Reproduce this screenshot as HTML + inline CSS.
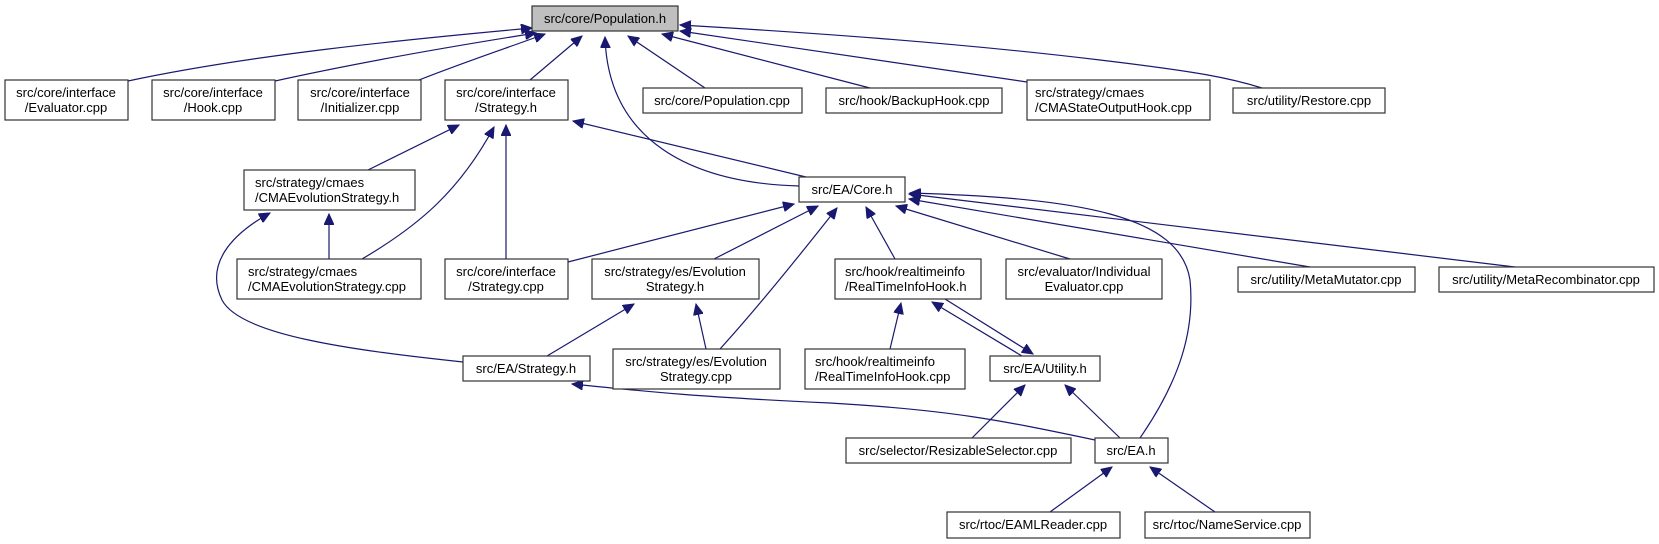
<!DOCTYPE html>
<html><head><meta charset="utf-8"><style>
html,body{margin:0;padding:0;background:#fff;}
svg{display:block;}
text{font-family:"Liberation Sans",Arial,sans-serif;font-size:13px;fill:#000;}
.b{fill:#fff;stroke:#333;stroke-width:1.2;}
.e{fill:none;stroke:#191970;stroke-width:1.2;marker-end:url(#a);}
</style></head><body>
<svg width="1659" height="544" viewBox="0 0 1659 544" xmlns="http://www.w3.org/2000/svg">
<defs><marker id="a" markerUnits="userSpaceOnUse" markerWidth="12" markerHeight="10" refX="11" refY="5" orient="auto"><path d="M0,0 L11,5 L0,10 z" fill="#191970" stroke="#191970"/></marker></defs>

<!-- edges -->
<path class="e" d="M128,81 C250,55 400,40 532,28"/>
<path class="e" d="M275,81 C370,60 460,45 536,33"/>
<path class="e" d="M419,80 C470,60 510,47 545,34"/>
<path class="e" d="M530,80 L582,36"/>
<path class="e" d="M799,186 C690,183 608,140 605,37"/>
<path class="e" d="M705,88 L628,36"/>
<path class="e" d="M870,88 L662,34"/>
<path class="e" d="M1027,82 L680,31"/>
<path class="e" d="M1262,88 C1230,78 1200,72 1100,60 C950,42 800,32 680,25"/>

<path class="e" d="M368,170 L459,125"/>
<path class="e" d="M362,259 C420,225 460,190 494,127"/>
<path class="e" d="M506,259 L506,125"/>
<path class="e" d="M806,177 L573,121"/>

<path class="e" d="M329,259 L329,214"/>
<path class="e" d="M463,362 C350,350 240,335 222,300 C205,265 230,235 270,213"/>

<path class="e" d="M568,262 L794,204"/>
<path class="e" d="M714,259 L818,206"/>
<path class="e" d="M720,349 C760,305 800,255 837,208"/>
<path class="e" d="M895,259 L866,207"/>
<path class="e" d="M1070,259 L896,206"/>
<path class="e" d="M1310,267 L909,199"/>
<path class="e" d="M1515,267 L909,194"/>
<path class="e" d="M1140,438 C1180,380 1195,330 1190,280 C1180,215 1080,198 910,193"/>

<path class="e" d="M890,349 L901,303"/>
<path class="e" d="M1022,356 L932,302"/>
<path class="e" d="M945,299 L1033,354"/>

<path class="e" d="M972,438 L1025,385"/>
<path class="e" d="M1120,438 L1065,385"/>

<path class="e" d="M547,356 L634,304"/>
<path class="e" d="M706,349 L696,304"/>

<path class="e" d="M1095,440 C1000,420 950,410 830,403 C700,397 650,392 572,384"/>

<path class="e" d="M1050,512 L1112,467"/>
<path class="e" d="M1215,512 L1150,467"/>

<!-- nodes -->
<rect x="532" y="6" width="146" height="25" style="fill:#bfbfbf;stroke:#333;stroke-width:1.2"/>
<text x="605" y="23" text-anchor="middle">src/core/Population.h</text>

<rect class="b" x="5" y="80" width="123" height="40"/>
<text x="66" y="97" text-anchor="middle">src/core/interface</text>
<text x="66" y="112" text-anchor="middle">/Evaluator.cpp</text>

<rect class="b" x="152" y="80" width="123" height="40"/>
<text x="213" y="97" text-anchor="middle">src/core/interface</text>
<text x="213" y="112" text-anchor="middle">/Hook.cpp</text>

<rect class="b" x="298" y="80" width="123" height="40"/>
<text x="360" y="97" text-anchor="middle">src/core/interface</text>
<text x="360" y="112" text-anchor="middle">/Initializer.cpp</text>

<rect class="b" x="445" y="80" width="123" height="40"/>
<text x="506" y="97" text-anchor="middle">src/core/interface</text>
<text x="506" y="112" text-anchor="middle">/Strategy.h</text>

<rect class="b" x="643" y="88" width="159" height="25"/>
<text x="722" y="105" text-anchor="middle">src/core/Population.cpp</text>

<rect class="b" x="826" y="88" width="176" height="25"/>
<text x="914" y="105" text-anchor="middle">src/hook/BackupHook.cpp</text>

<rect class="b" x="1027" y="80" width="183" height="40"/>
<text x="1035" y="97">src/strategy/cmaes</text>
<text x="1035" y="112">/CMAStateOutputHook.cpp</text>

<rect class="b" x="1233" y="88" width="152" height="25"/>
<text x="1309" y="105" text-anchor="middle">src/utility/Restore.cpp</text>

<rect class="b" x="244" y="170" width="171" height="40"/>
<text x="255" y="187">src/strategy/cmaes</text>
<text x="255" y="202">/CMAEvolutionStrategy.h</text>

<rect class="b" x="799" y="177" width="106" height="25"/>
<text x="852" y="194" text-anchor="middle">src/EA/Core.h</text>

<rect class="b" x="237" y="259" width="184" height="40"/>
<text x="248" y="276">src/strategy/cmaes</text>
<text x="248" y="291">/CMAEvolutionStrategy.cpp</text>

<rect class="b" x="445" y="259" width="123" height="40"/>
<text x="506" y="276" text-anchor="middle">src/core/interface</text>
<text x="506" y="291" text-anchor="middle">/Strategy.cpp</text>

<rect class="b" x="592" y="259" width="167" height="40"/>
<text x="675" y="276" text-anchor="middle">src/strategy/es/Evolution</text>
<text x="675" y="291" text-anchor="middle">Strategy.h</text>

<rect class="b" x="835" y="259" width="146" height="40"/>
<text x="845" y="276">src/hook/realtimeinfo</text>
<text x="845" y="291">/RealTimeInfoHook.h</text>

<rect class="b" x="1006" y="259" width="156" height="40"/>
<text x="1084" y="276" text-anchor="middle">src/evaluator/Individual</text>
<text x="1084" y="291" text-anchor="middle">Evaluator.cpp</text>

<rect class="b" x="1238" y="267" width="177" height="25"/>
<text x="1326" y="284" text-anchor="middle">src/utility/MetaMutator.cpp</text>

<rect class="b" x="1439" y="267" width="215" height="25"/>
<text x="1546" y="284" text-anchor="middle">src/utility/MetaRecombinator.cpp</text>

<rect class="b" x="463" y="356" width="127" height="25"/>
<text x="526" y="373" text-anchor="middle">src/EA/Strategy.h</text>

<rect class="b" x="613" y="349" width="167" height="40"/>
<text x="696" y="366" text-anchor="middle">src/strategy/es/Evolution</text>
<text x="696" y="381" text-anchor="middle">Strategy.cpp</text>

<rect class="b" x="805" y="349" width="160" height="40"/>
<text x="815" y="366">src/hook/realtimeinfo</text>
<text x="815" y="381">/RealTimeInfoHook.cpp</text>

<rect class="b" x="990" y="356" width="110" height="25"/>
<text x="1045" y="373" text-anchor="middle">src/EA/Utility.h</text>

<rect class="b" x="846" y="438" width="225" height="25"/>
<text x="958" y="455" text-anchor="middle">src/selector/ResizableSelector.cpp</text>

<rect class="b" x="1095" y="438" width="73" height="25"/>
<text x="1131" y="455" text-anchor="middle">src/EA.h</text>

<rect class="b" x="947" y="512" width="173" height="26"/>
<text x="1033" y="529" text-anchor="middle">src/rtoc/EAMLReader.cpp</text>

<rect class="b" x="1145" y="512" width="165" height="26"/>
<text x="1227" y="529" text-anchor="middle">src/rtoc/NameService.cpp</text>
</svg>
</body></html>
